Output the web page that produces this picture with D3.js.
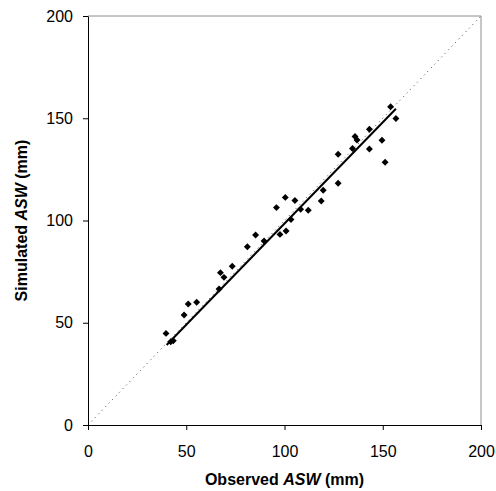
<!DOCTYPE html>
<html>
<head>
  <title>Simulated vs observed ASW</title>
</head>
<style>
  body { margin: 0; background: #fff; }
  text { font-family: "Liberation Sans", Arial, sans-serif; }
</style>
<body>
  <script src="https://d3js.org/d3.v7.min.js"></script>
  <script>
    // observed vs simulated ASW (mm)
    const observed = [39.7, 42.1, 43.4, 48.9, 51.0, 55.3, 66.7, 67.4, 69.2, 73.4,
                      81.1, 85.3, 89.6, 95.9, 100.4, 105.3, 97.7, 100.8, 103.3, 108.2,
                      112.1, 118.7, 119.7, 127.3, 127.3, 134.6, 135.9, 136.9, 143.2, 143.2,
                      149.6, 151.2, 154.0, 156.7];
    const simulated = [44.8, 40.7, 41.2, 53.8, 59.2, 60.0, 66.5, 74.5, 72.2, 77.6,
                       87.2, 92.9, 90.0, 106.3, 111.3, 109.8, 93.2, 94.9, 100.5, 105.5,
                       105.0, 109.5, 114.8, 118.2, 132.4, 135.2, 141.1, 139.4, 144.6, 135.0,
                       139.2, 128.5, 155.6, 149.9];
    const ticks = [0, 50, 100, 150, 200];
    // fitted regression line
    const fitRange = [40, 156.7];
    const fitSlope = 0.99;
    const fitIntercept = -0.5;

    const w = 496;
    const h = 491;
    const margin = {top: 16, right: 15, bottom: 66, left: 88};

    const svg = d3.select("body")
                  .append("svg")
                  .attr("width", w)
                  .attr("height", h)

    const x = d3.scaleLinear().domain([0, 200]).range([margin.left, w - margin.right]);
    const y = d3.scaleLinear().domain([0, 200]).range([h - margin.bottom, margin.top]);

    // grey frame on top and right
    svg.append("path")
       .attr("d", `M${x(0)},${y(200)}H${x(200)}V${y(0)}`)
       .attr("fill", "none")
       .attr("stroke", "#8c8c8c")
       .attr("stroke-width", 1)

    // 1:1 line
    svg.append("line")
       .attr("x1", x(0)).attr("y1", y(0))
       .attr("x2", x(200)).attr("y2", y(200))
       .attr("stroke", "#444")
       .attr("stroke-width", 1)
       .attr("stroke-dasharray", "1,4")

    svg.append("g")
       .attr("transform", `translate(0,${y(0)})`)
       .call(d3.axisBottom(x).tickValues(ticks).tickSize(5).tickSizeOuter(0).tickPadding(16))
    svg.append("g")
       .attr("transform", `translate(${x(0)},0)`)
       .call(d3.axisLeft(y).tickValues(ticks).tickSize(5).tickSizeOuter(0).tickPadding(10))

    svg.selectAll(".tick text")
       .attr("font-size", 16)
       .attr("font-family", "Liberation Sans, Arial, sans-serif")
       .attr("fill", "#000")
    svg.selectAll(".domain, .tick line").attr("stroke", "#000")

    // regression line
    svg.append("line")
       .attr("x1", x(fitRange[0])).attr("y1", y(fitSlope * fitRange[0] + fitIntercept))
       .attr("x2", x(fitRange[1])).attr("y2", y(fitSlope * fitRange[1] + fitIntercept))
       .attr("stroke", "#000")
       .attr("stroke-width", 2)

    // points
    const sym = d3.symbol().type(d3.symbolSquare).size(24);
    svg.append("g")
       .selectAll("path")
       .data(observed)
       .join("path")
       .attr("d", sym)
       .attr("transform", (d, i) => `translate(${x(d)},${y(simulated[i])}) rotate(45)`)
       .attr("fill", "#000")

    // axis titles
    const xt = svg.append("text")
       .attr("x", (x(0) + x(200)) / 2)
       .attr("y", 485)
       .attr("text-anchor", "middle")
       .attr("font-size", 16)
       .attr("font-weight", "bold")
    xt.append("tspan").text("Observed ")
    xt.append("tspan").attr("font-style", "italic").text("ASW")
    xt.append("tspan").text(" (mm)")

    const yt = svg.append("text")
       .attr("transform", `translate(27,${(y(0) + y(200)) / 2}) rotate(-90)`)
       .attr("text-anchor", "middle")
       .attr("font-size", 16)
       .attr("font-weight", "bold")
    yt.append("tspan").text("Simulated ")
    yt.append("tspan").attr("font-style", "italic").text("ASW")
    yt.append("tspan").text(" (mm)")
  </script>
</body>
</html>
